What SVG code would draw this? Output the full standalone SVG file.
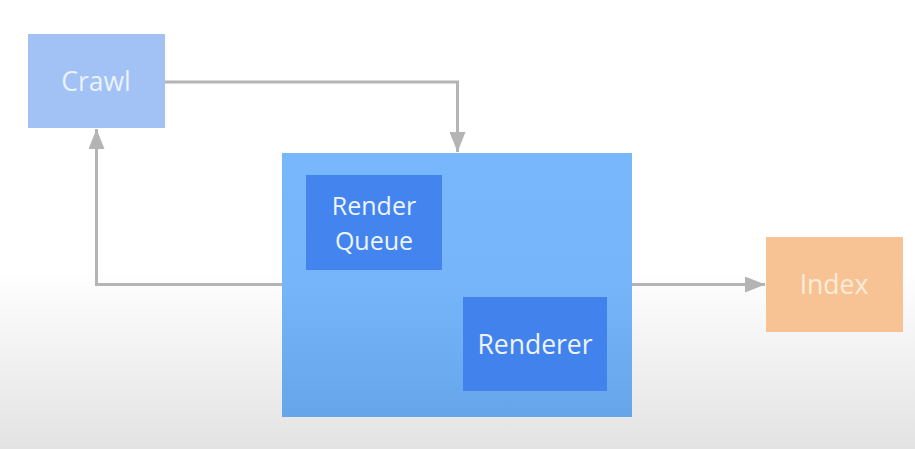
<svg xmlns="http://www.w3.org/2000/svg" width="915" height="449" viewBox="0 0 915 449">
<defs>
<linearGradient id="bg" x1="0" y1="0" x2="0" y2="1">
<stop offset="0" stop-color="#ffffff"/>
<stop offset="0.6" stop-color="#ffffff"/>
<stop offset="1" stop-color="#e3e3e3"/>
</linearGradient>
<linearGradient id="mainG" x1="0" y1="0" x2="0" y2="1">
<stop offset="0" stop-color="#78b7fb"/>
<stop offset="0.5" stop-color="#76b5fa"/>
<stop offset="1" stop-color="#67a5ea"/>
</linearGradient>
<marker id="ah" viewBox="0 0 20 16" refX="20" refY="8" markerWidth="20" markerHeight="16" markerUnits="userSpaceOnUse" orient="auto">
<path d="M0,0 L20,8 L0,16 Z" fill="#b4b4b4"/>
</marker>
<style>
.conn{fill:none;stroke:#b4b4b4;stroke-width:3}
.lbl{font-family:"Open Sans","Noto Sans",sans-serif;font-size:26.5px;text-anchor:middle}
.rq{font-size:25px}
</style>
</defs>
<rect width="915" height="449" fill="url(#bg)"/>
<g id="connectors">
<path class="conn" d="M165,82 H457.5 V152" marker-end="url(#ah)"/>
<path class="conn" d="M282,284.5 H96.5 V129" marker-end="url(#ah)"/>
<path class="conn" d="M632,284.5 H765" marker-end="url(#ah)"/>
</g>
<g id="crawl">
<rect x="28" y="34" width="137" height="94" fill="#a2c1f5"/>
<text class="lbl" x="96" y="91" fill="#eaf2fe">Crawl</text>
</g>
<g id="main">
<rect x="282" y="153" width="350" height="264" fill="url(#mainG)"/>
</g>
<g id="render-queue">
<rect x="306" y="175" width="136" height="95" fill="#4384ee"/>
<text class="lbl rq" x="374" y="215" fill="#eef4fe">Render</text>
<text class="lbl rq" x="374" y="249.5" fill="#eef4fe">Queue</text>
</g>
<g id="renderer">
<rect x="463" y="297" width="144" height="94" fill="#4282ec"/>
<text class="lbl" x="535" y="354" fill="#eef4fe">Renderer</text>
</g>
<g id="index">
<rect x="766" y="237" width="137" height="95" fill="#f7c395"/>
<text class="lbl" x="834" y="294" fill="#fdebd6">Index</text>
</g>
</svg>
